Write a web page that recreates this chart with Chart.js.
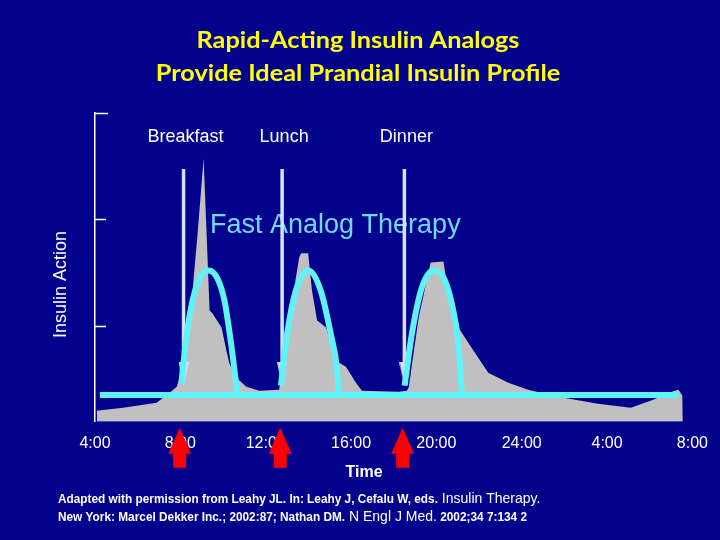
<!DOCTYPE html>
<html><head><meta charset="utf-8">
<script src="https://cdn.jsdelivr.net/npm/chart.js@4.4.1/dist/chart.umd.min.js"></script>
<style>html,body{margin:0;padding:0;background:#02028c;}canvas{display:block;}</style>
</head><body>
<canvas id="c" width="720" height="540"></canvas>
<script>
// ---- data ----
const titleLines = ['Rapid-Acting Insulin Analogs', 'Provide Ideal Prandial Insulin Profile'];
const tickHours = [4, 8, 12, 16, 20, 24, 28, 32];
const timeLabels = ['4:00', '8:00', '12:00', '16:00', '20:00', '24:00', '4:00', '8:00'];
const yTickValues = [0.9, 1.9, 2.9];
const yTitle = 'Insulin Action';
const xTitle = 'Time';
const seriesLabel = 'Fast Analog Therapy';

// physiological insulin action (grey area)
const physHours = [4.09, 5.31, 6.89, 7.50, 7.83, 8.11, 8.53, 8.81, 9.09, 9.23, 9.37, 9.51, 9.93, 10.16, 10.30, 10.63, 11.09, 11.70, 12.63,
  12.87, 13.24, 13.57, 13.66, 13.99, 14.17, 14.41, 14.83, 15.29, 15.76, 16.23, 16.51, 18.23, 18.61,
  18.70, 19.17, 19.73, 20.33, 20.57, 21.03, 21.64, 22.43, 23.37, 24.30, 25.70, 27.57, 29.11, 30.04, 31.16, 31.35, 31.53, 31.55];
const physAction = [0.104, 0.132, 0.179, 0.273, 0.330, 0.508, 1.139, 1.770, 2.476, 1.770, 1.045, 1.017, 0.885, 0.668, 0.546, 0.414, 0.330, 0.292, 0.301,
  0.603, 1.139, 1.544, 1.582, 1.582, 1.233, 0.951, 0.885, 0.574, 0.518, 0.367, 0.292, 0.282, 0.292,
  0.320, 0.979, 1.497, 1.506, 1.205, 0.885, 0.697, 0.461, 0.367, 0.301, 0.235, 0.169, 0.132, 0.198, 0.292, 0.301, 0.245, 0];

// fast analog therapy (cyan)
const basalHours = [4.23, 31.35];
const basalAction = [0.251, 0.251];
const breakfastHours = [8.046, 8.279, 8.573, 8.979, 9.334, 9.74, 10.067, 10.379, 10.613, 10.673];
const breakfastAction = [0.358, 0.791, 1.139, 1.375, 1.422, 1.346, 1.139, 0.734, 0.358, 0.254];
const lunchHours = [12.713, 13.007, 13.413, 14.001, 14.579, 15.046, 15.354, 15.433];
const lunchAction = [0.339, 0.829, 1.233, 1.422, 1.233, 0.829, 0.480, 0.254];
const dinnerHours = [18.513, 18.854, 19.321, 19.867, 20.333, 20.721, 21.033, 21.187, 21.22];
const dinnerAction = [0.339, 0.829, 1.262, 1.422, 1.356, 1.111, 0.734, 0.292, 0.254];

// meals and injections
const mealNames = ['Breakfast', 'Lunch', 'Dinner'];
const mealHours = [8.15, 12.77, 18.50];
const mealArrowTop = 2.373;
const mealArrowHead = 0.447;
const injectionHours = [7.97, 12.68, 18.42];

const footnote = [
  [{t: 'Adapted with permission from Leahy JL. In: Leahy J, Cefalu W, eds.', b: true}, {t: ' Insulin Therapy.', b: false}],
  [{t: 'New York: Marcel Dekker Inc.; 2002:87; Nathan DM.', b: true}, {t: ' N Engl J Med.', b: false}, {t: ' 2002;34 7:134 2', b: true}]
];

// ---- helpers ----
const pts = (xs, ys) => xs.map((h, i) => ({x: h, y: ys[i]}));
const FONT = '"Liberation Sans", Arial, sans-serif';

const headImg = document.createElement('canvas');
headImg.width = 10; headImg.height = 24;
(function () {
  const hc = headImg.getContext('2d');
  hc.fillStyle = '#d5e2ff';
  hc.beginPath(); hc.moveTo(0, 0); hc.lineTo(10, 0); hc.lineTo(5, 24); hc.closePath(); hc.fill();
})();

const mealData = [];
const mealRadius = [];
mealHours.forEach(h => {
  mealData.push({x: h, y: mealArrowTop}, {x: h, y: mealArrowHead}, {x: h + 0.01, y: null});
  mealRadius.push(0, 5, 0);
});

const deco = {
  id: 'deco',
  beforeDatasetsDraw(chart) {
    const {ctx, chartArea: a} = chart;
    ctx.save();
    ctx.fillStyle = '#70d8f8';
    ctx.font = '27px ' + FONT;
    ctx.textAlign = 'left';
    ctx.textBaseline = 'alphabetic';
    ctx.fillText(seriesLabel, a.left + 115, a.top + 120);
    ctx.restore();
  },
  afterDraw(chart) {
    const {ctx, chartArea: a, scales: {x, y}} = chart;
    ctx.save();
    // title
    ctx.fillStyle = '#ffff00';
    ctx.font = 'bold 23px Lato, "Open Sans", sans-serif';
    ctx.textAlign = 'center';
    ctx.textBaseline = 'alphabetic';
    titleLines.forEach((t, i) => {
      ctx.save();
      ctx.translate(358, 48 + i * 33);
      ctx.scale(1.1, 1);
      ctx.fillText(t, 0, 0);
      ctx.restore();
    });
    // inward tick marks on the y axis
    ctx.strokeStyle = '#ffffff';
    ctx.lineWidth = 1.5;
    yTickValues.forEach((v, i) => {
      const py = Math.round(y.getPixelForValue(v)) + 0.5;
      ctx.beginPath();
      ctx.moveTo(a.left, py);
      ctx.lineTo(a.left + (i === yTickValues.length - 1 ? 13 : 11), py);
      ctx.stroke();
    });
    // meal labels
    ctx.fillStyle = '#ffffff';
    ctx.font = '18px ' + FONT;
    ctx.textAlign = 'center';
    mealNames.forEach((n, i) => ctx.fillText(n, x.getPixelForValue(mealHours[i]) + 2, a.top + 29));
    // y title
    ctx.save();
    ctx.translate(61, (a.top + a.bottom) / 2 + 17);
    ctx.rotate(-Math.PI / 2);
    ctx.textBaseline = 'middle';
    ctx.fillText(yTitle, 0, 0);
    ctx.restore();
    // x title
    ctx.font = 'bold 16px ' + FONT;
    ctx.fillText(xTitle, 364, 477);
    // red injection arrows
    ctx.fillStyle = '#ff0000';
    injectionHours.forEach(h => {
      const px = x.getPixelForValue(h);
      const t = a.bottom + 6;
      ctx.beginPath();
      ctx.moveTo(px, t);
      ctx.lineTo(px + 11.5, t + 26);
      ctx.lineTo(px + 6.5, t + 26);
      ctx.lineTo(px + 6.5, t + 40);
      ctx.lineTo(px - 6.5, t + 40);
      ctx.lineTo(px - 6.5, t + 26);
      ctx.lineTo(px - 11.5, t + 26);
      ctx.closePath();
      ctx.fill();
    });
    // footnote
    ctx.fillStyle = '#ffffff';
    ctx.textAlign = 'left';
    const footY = [503, 521];
    footnote.forEach((line, li) => {
      let cx = 58;
      line.forEach(seg => {
        ctx.font = (seg.b ? 'bold 13px ' : '14px ') + FONT;
        const s = seg.b ? 0.91 : 1;
        const w = ctx.measureText(seg.t).width * s;
        ctx.save();
        ctx.translate(cx, footY[li]);
        ctx.scale(s, 1);
        ctx.fillText(seg.t, 0, 0);
        ctx.restore();
        cx += w;
      });
    });
    ctx.restore();
  }
};

const cyan = '#5ff3f8';
const arch = (xs, ys) => ({
  data: pts(xs, ys), borderColor: cyan, borderWidth: 6, pointRadius: 0, fill: false,
  cubicInterpolationMode: 'monotone', order: 0
});

new Chart(document.getElementById('c'), {
  type: 'line',
  data: {
    datasets: [
      {data: pts(physHours, physAction), borderWidth: 0, borderColor: 'rgba(0,0,0,0)', backgroundColor: '#c0c0c0',
        fill: 'start', pointRadius: 0, tension: 0, order: 3},
      {data: mealData, borderColor: '#d5e2ff', borderWidth: 3.5, pointStyle: headImg, pointRadius: mealRadius,
        pointHoverRadius: mealRadius, fill: false, spanGaps: false, order: 2},
      {data: pts(basalHours, basalAction), borderColor: cyan, borderWidth: 6, pointRadius: 0, fill: false, order: 1},
      arch(breakfastHours, breakfastAction),
      arch(lunchHours, lunchAction),
      arch(dinnerHours, dinnerAction)
    ]
  },
  options: {
    responsive: false,
    animation: false,
    events: [],
    layout: {padding: {left: 95, right: 25, top: 113, bottom: 75}},
    plugins: {
      legend: {display: false},
      tooltip: {enabled: false},
      title: {display: false}
    },
    scales: {
      x: {
        type: 'linear', min: 4, max: 32,
        afterBuildTicks: s => { s.ticks = tickHours.map(v => ({value: v})); },
        ticks: {color: '#ffffff', font: {family: FONT, size: 16}, padding: 12, autoSkip: false, maxRotation: 0,
          callback: (v, i) => timeLabels[i]},
        grid: {display: false, drawTicks: false},
        border: {display: false}
      },
      y: {
        min: 0, max: 2.9,
        ticks: {display: false},
        grid: {display: false, drawTicks: false},
        border: {display: true, color: '#ffffff', width: 1.5}
      }
    }
  },
  plugins: [deco]
});
</script>
</body></html>
